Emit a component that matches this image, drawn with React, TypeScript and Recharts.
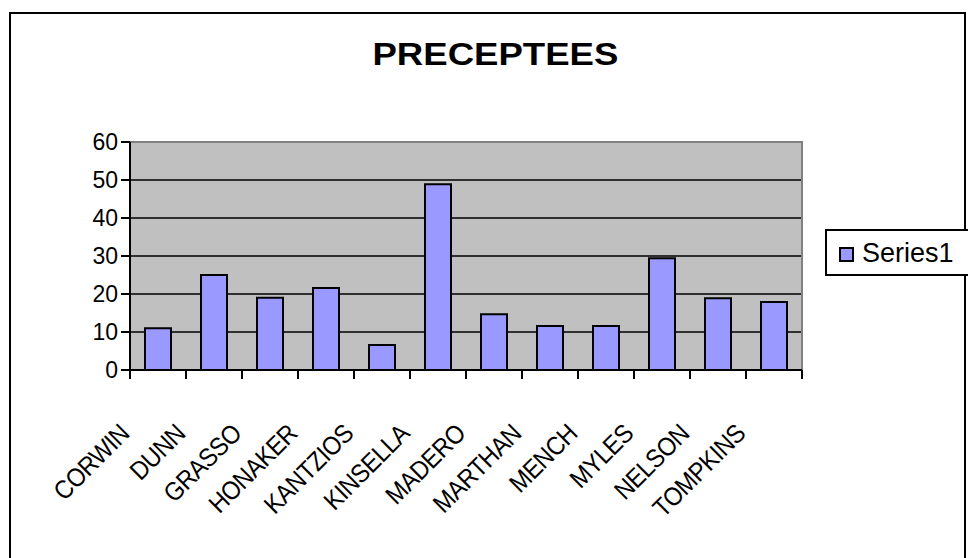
import React from 'react';
import {
  BarChart,
  Bar,
  XAxis,
  YAxis,
  CartesianGrid,
  ReferenceArea,
} from 'recharts';

const names = [
  'CORWIN',
  'DUNN',
  'GRASSO',
  'HONAKER',
  'KANTZIOS',
  'KINSELLA',
  'MADERO',
  'MARTHAN',
  'MENCH',
  'MYLES',
  'NELSON',
  'TOMPKINS',
];
const series1 = [11, 25, 19, 21.6, 6.6, 48.9, 14.7, 11.6, 11.6, 29.4, 18.9, 17.9];
const yTicks = [0, 10, 20, 30, 40, 50, 60];

const data = names.map((name, i) => ({ name, value: series1[i] }));

const W = 968;
const H = 558;
const Y_AXIS_W = 130;
const MARGIN = { top: 142, right: 166, bottom: 0, left: 0 };
const BAND = (W - Y_AXIS_W - MARGIN.right - MARGIN.left) / names.length;
const FONT = '"Liberation Sans", Arial, sans-serif';

// category label, rotated, with the tick mark drawn at the left edge of the band
const NameTick = (props: any) => {
  const { x, y, payload, index, visibleTicksCount } = props;
  const edge = x - BAND / 2;
  const lx = x - 27;
  const ly = y + 65;
  return (
    <g>
      <line x1={edge} y1={y} x2={edge} y2={y + 9} stroke="#000" strokeWidth={2} />
      {index === visibleTicksCount - 1 && (
        <line x1={x + BAND / 2} y1={y} x2={x + BAND / 2} y2={y + 9} stroke="#000" strokeWidth={2} />
      )}
      <text
        x={0}
        y={0}
        transform={`translate(${lx}, ${ly}) rotate(-45) scale(0.9, 1)`}
        textAnchor="end"
        fontSize={26}
        fontFamily={FONT}
        letterSpacing={-0.5}
        fill="#000"
      >
        {payload.value}
      </text>
    </g>
  );
};

export default function App() {
  return (
    <div
      style={{
        position: 'absolute',
        left: 0,
        top: 0,
        width: W,
        height: H,
        overflow: 'hidden',
        background: '#fff',
        fontFamily: FONT,
      }}
    >
      <div
        style={{
          position: 'absolute',
          left: 9,
          top: 12,
          width: W - 9 - 2,
          height: H + 20,
          borderLeft: '2px solid #000',
          borderTop: '2px solid #000',
          borderRight: '2px solid #000',
          boxSizing: 'border-box',
        }}
      />
      <div
        style={{
          position: 'absolute',
          left: 0,
          top: 38,
          width: 991,
          textAlign: 'center',
          fontSize: 31,
          fontWeight: 'bold',
          lineHeight: '34px',
          transform: 'scaleX(1.18)',
          transformOrigin: '496px 0',
        }}
      >
        PRECEPTEES
      </div>

      <BarChart width={W} height={H} data={data} margin={MARGIN} style={{ position: 'absolute', left: 0, top: 0 }}>
        <CartesianGrid
          vertical={false}
          fill="#C0C0C0"
          fillOpacity={1}
          stroke="#000"
          strokeWidth={1.5}
          horizontalValues={[10, 20, 30, 40, 50]}
        />
        <ReferenceArea y1={0} y2={60} fill="none" stroke="#808080" strokeWidth={2} ifOverflow="visible" />
        <XAxis
          dataKey="name"
          height={H - 370}
          interval={0}
          tickSize={0}
          tickMargin={0}
          tickLine={false}
          axisLine={{ stroke: '#000', strokeWidth: 2 }}
          tick={<NameTick />}
        />
        <YAxis
          width={Y_AXIS_W}
          domain={[0, 60]}
          ticks={yTicks}
          interval={0}
          tickSize={9}
          tickMargin={3}
          axisLine={{ stroke: '#000', strokeWidth: 2 }}
          tickLine={{ stroke: '#000', strokeWidth: 2 }}
          tick={{ fill: '#000', fontSize: 23, fontFamily: FONT }}
        />
        <Bar
          dataKey="value"
          fill="#9999FF"
          stroke="#000"
          strokeWidth={2}
          barSize={26}
          isAnimationActive={false}
        />
      </BarChart>

      <div
        style={{
          position: 'absolute',
          left: 825,
          top: 229,
          width: 160,
          height: 47,
          border: '2px solid #000',
          boxSizing: 'border-box',
          background: '#fff',
        }}
      >
        <div
          style={{
            position: 'absolute',
            left: 12,
            top: 16,
            width: 15,
            height: 15,
            background: '#9999FF',
            border: '2px solid #000',
            boxSizing: 'border-box',
          }}
        />
        <div
          style={{
            position: 'absolute',
            left: 35,
            top: 6,
            fontSize: 27,
            lineHeight: '32px',
            whiteSpace: 'nowrap',
          }}
        >
          Series1
        </div>
      </div>
    </div>
  );
}
